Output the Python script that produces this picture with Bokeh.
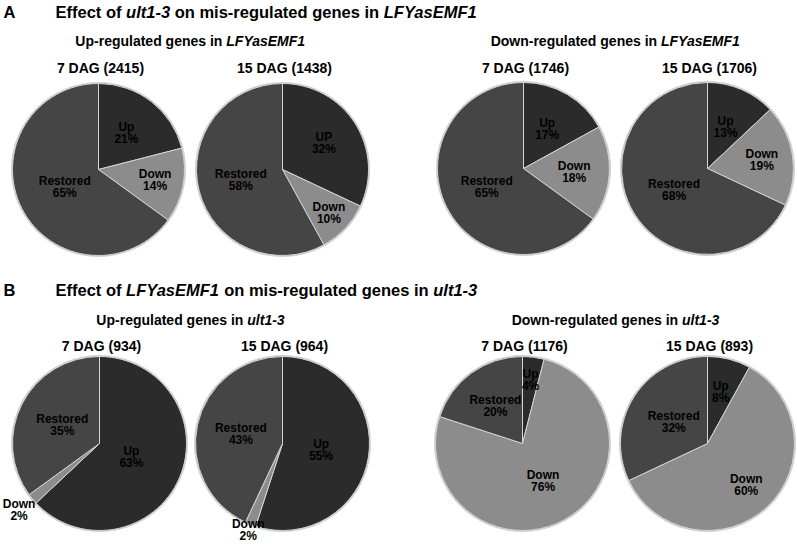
import math
from bokeh.plotting import figure
from bokeh.models import Range1d, ColumnDataSource
from bokeh.core.properties import value
from bokeh.embed import file_html
from bokeh.resources import INLINE

# ---------------- data ----------------
categories = ["Up", "Down", "Restored"]

pie_titles_A = ["7 DAG (2415)", "15 DAG (1438)", "7 DAG (1746)", "15 DAG (1706)"]
names_A = [["Up", "Down", "Restored"], ["UP", "Down", "Restored"],
           ["Up", "Down", "Restored"], ["Up", "Down", "Restored"]]
pct_A = [[21, 14, 65], [32, 10, 58], [17, 18, 65], [13, 19, 68]]

pie_titles_B = ["7 DAG (934)", "15 DAG (964)", "7 DAG (1176)", "15 DAG (893)"]
names_B = [["Up", "Down", "Restored"]] * 4
pct_B = [[63, 2, 35], [55, 2, 43], [4, 76, 20], [8, 60, 32]]

# ---------------- style / layout ----------------
colors = {"Up": "#2b2b2b", "Down": "#8c8c8c", "Restored": "#454545"}
FONT = "Liberation Sans"
W, H = 797, 545

def Y(py):  # screen y -> data y
    return H - py

centers_A = [(98, 169), (282, 169), (523, 168), (707, 168)]
centers_B = [(99, 443), (282, 443), (522, 443), (707, 443)]
radius_A, radius_B = 86, 87
label_frac_A = [[0.53, 0.67, 0.44], [0.57, 0.74, 0.50], [0.54, 0.59, 0.48], [0.53, 0.64, 0.46]]
label_frac_B = [[0.40, 1.20, 0.48], [0.45, 1.07, 0.49], [0.74, 0.49, 0.53], [0.61, 0.65, 0.46]]

# Arial/Liberation Sans Bold advance widths (per 1000 em)
CW = {' ': 278, '-': 333, '1': 556, '3': 556, 'D': 722, 'E': 667, 'F': 611, 'L': 611,
      'M': 833, 'U': 722, 'Y': 667, 'a': 556, 'c': 556, 'd': 611, 'e': 556, 'f': 333,
      'g': 611, 'i': 278, 'l': 278, 'm': 889, 'n': 611, 'o': 611, 'p': 611, 'r': 389,
      's': 556, 't': 333, 'u': 611, 'w': 778}

def tw(s, size):
    return sum(CW.get(c, 556) for c in s) * size / 1000.0

p = figure(width=W, height=H, x_range=Range1d(0, W), y_range=Range1d(0, H),
           output_backend="svg", toolbar_location=None, x_axis_type=None, y_axis_type=None,
           min_border=0, min_border_left=0, min_border_right=0, min_border_top=0,
           min_border_bottom=0)
p.grid.visible = False
p.outline_line_color = None
p.background_fill_color = "white"
p.border_fill_color = "white"


def rich(segments, x, py, size, align="left"):
    total = sum(tw(s, size) for s, _ in segments)
    x0 = x - total / 2 if align == "center" else x
    for s, it in segments:
        lead = len(s) - len(s.lstrip(" "))
        p.text(x=[x0 + tw(" " * lead, size)], y=[Y(py)], text=[s.strip(" ")],
               text_font=value(FONT),
               text_font_style="bold italic" if it else "bold",
               text_font_size=f"{size}px", text_align="left", text_baseline="middle",
               text_color="#000000")
        x0 += tw(s, size)


def pies(centers, r, pcts, names, titles, fracs, title_py):
    for (cx, cy), pc, nm, tt, fr in zip(centers, pcts, names, titles, fracs):
        total = float(sum(pc))
        cum = 0.0
        xs, ys, st, en, col = [], [], [], [], []
        lx, ly, lname, lpct = [], [], [], []
        for cat, v, n, f in zip(categories, pc, nm, fr):
            a0 = cum / total
            a1 = (cum + v) / total
            xs.append(cx); ys.append(Y(cy))
            st.append(math.pi / 2 - 2 * math.pi * a0)
            en.append(math.pi / 2 - 2 * math.pi * a1)
            col.append(colors[cat])
            mid = 2 * math.pi * (a0 + a1) / 2
            lx.append(cx + f * r * math.sin(mid))
            ly.append(Y(cy) + f * r * math.cos(mid))
            lname.append(n)
            lpct.append(f"{v}%")
            cum += v
        p.circle(x=[cx], y=[Y(cy)], radius=r + 1.5, fill_color="#cfcfcf", line_color=None)
        src = ColumnDataSource(dict(x=xs, y=ys, start=st, end=en, color=col))
        p.wedge(x="x", y="y", radius=r, start_angle="start", end_angle="end",
                direction="clock", fill_color="color", line_color="#d4d4d4",
                line_width=1, source=src)
        p.text(x=lx, y=[v + 6 for v in ly], text=lname, text_font=value(FONT),
               text_font_style="bold", text_font_size="12px", text_align="center",
               text_baseline="middle", text_color="#000000")
        p.text(x=lx, y=[v - 6 for v in ly], text=lpct, text_font=value(FONT),
               text_font_style="bold", text_font_size="12px", text_align="center",
               text_baseline="middle", text_color="#000000")
        p.text(x=[cx + 2], y=[Y(title_py)], text=[tt], text_font=value(FONT),
               text_font_style="bold", text_font_size="14px", text_align="center",
               text_baseline="middle", text_color="#000000")


# Section A
rich([("A", False)], 3, 11, 16.5)
rich([("Effect of ", False), ("ult1-3", True), (" on mis-regulated genes in ", False),
      ("LFYasEMF1", True)], 55, 11, 16.5)
rich([("Up-regulated genes in ", False), ("LFYasEMF1", True)], 190, 40, 14, "center")
rich([("Down-regulated genes in ", False), ("LFYasEMF1", True)], 615, 40, 14, "center")
pies(centers_A, radius_A, pct_A, names_A, pie_titles_A, label_frac_A, 67)

# Section B
rich([("B", False)], 3, 289, 16.5)
rich([("Effect of ", False), ("LFYasEMF1", True), (" on mis-regulated genes in ", False),
      ("ult1-3", True)], 55, 289, 16.5)
rich([("Up-regulated genes in ", False), ("ult1-3", True)], 190, 319, 14, "center")
rich([("Down-regulated genes in ", False), ("ult1-3", True)], 615, 319, 14, "center")
pies(centers_B, radius_B, pct_B, names_B, pie_titles_B, label_frac_B, 345)

open("out.html", "w").write(file_html(p, INLINE))
